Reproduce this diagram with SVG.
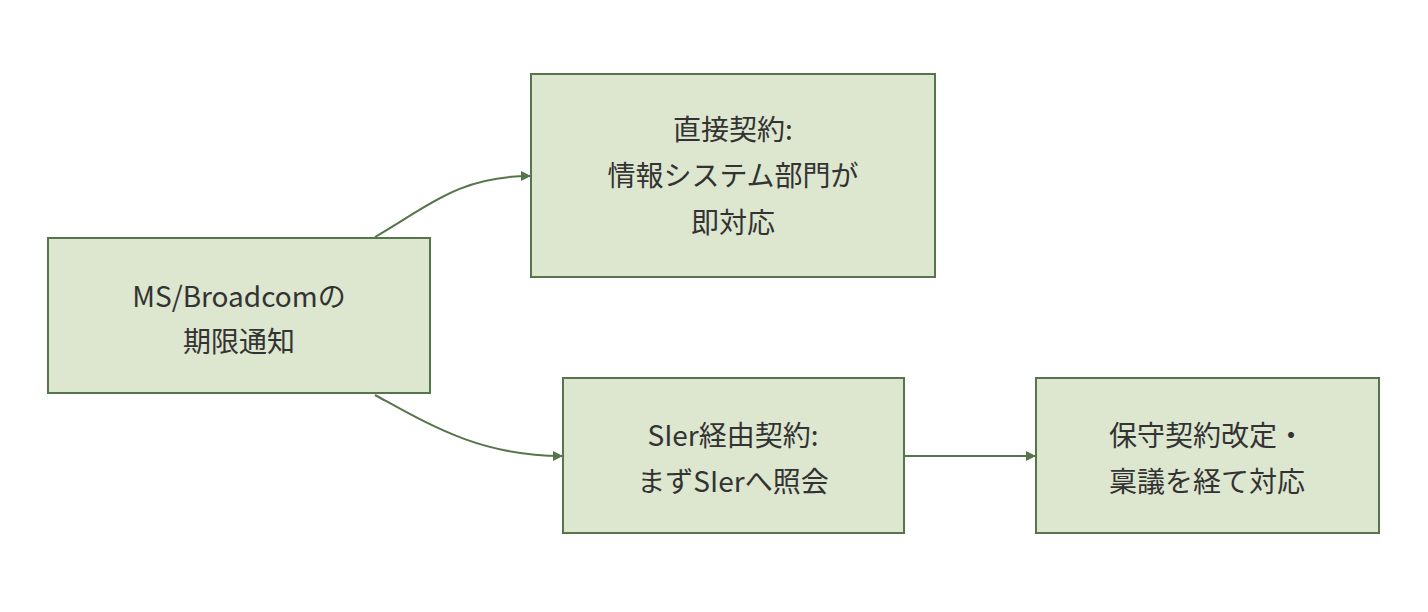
<svg xmlns="http://www.w3.org/2000/svg" width="1428" height="612" viewBox="0 0 1428 612">
<style>
.n{fill:#dde6cf;stroke:#56754a;stroke-width:2}
.t{font-family:"Noto Sans CJK JP","Noto Sans",sans-serif;font-size:28px;fill:#333;text-anchor:middle}
.c{fill:none;stroke:#56754a;stroke-width:2}
</style>
<defs><marker id="a" markerWidth="10" markerHeight="10" refX="9" refY="5" orient="auto" markerUnits="userSpaceOnUse"><path d="M0,0L10,5L0,10z" fill="#56754a"/></marker></defs>
<rect width="1428" height="612" fill="#fff"/>
<g id="connectors">
<path class="c" d="M375,237C430,205,460,176,530,176" marker-end="url(#a)"/>
<path class="c" d="M375,395C430,425,480,456,562,456" marker-end="url(#a)"/>
<path class="c" d="M904,456L1035,456" marker-end="url(#a)"/>
</g>
<g id="n1"><rect class="n" x="48" y="238" width="382" height="155"/><text class="t" x="239" y="307">MS/Broadcomの</text><text class="t" x="239" y="352">期限通知</text></g>
<g id="n2"><rect class="n" x="531" y="74" width="404" height="203"/><text class="t" x="733" y="140">直接契約:</text><text class="t" x="733" y="186">情報システム部門が</text><text class="t" x="733" y="233">即対応</text></g>
<g id="n3"><rect class="n" x="563" y="378" width="341" height="155"/><text class="t" x="733" y="446">SIer経由契約:</text><text class="t" x="733" y="492">まずSIerへ照会</text></g>
<g id="n4"><rect class="n" x="1036" y="378" width="343" height="155"/><text class="t" x="1207" y="446">保守契約改定・</text><text class="t" x="1207" y="492">稟議を経て対応</text></g>
</svg>
